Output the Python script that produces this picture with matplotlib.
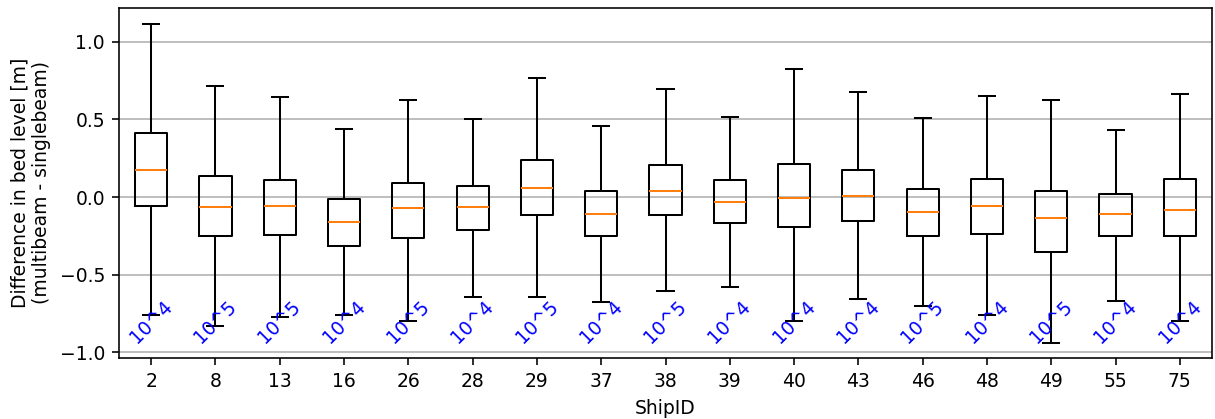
import matplotlib
matplotlib.use("Agg")
import matplotlib.pyplot as plt

ship_ids = ["2", "8", "13", "16", "26", "28", "29", "37", "38", "39", "40", "43", "46", "48", "49", "55", "75"]
whisker_high = [1.114, 0.714, 0.643, 0.439, 0.628, 0.503, 0.770, 0.460, 0.695, 0.518, 0.824, 0.675, 0.512, 0.649, 0.628, 0.434, 0.665]
q3 = [0.411, 0.138, 0.110, -0.013, 0.090, 0.073, 0.237, 0.037, 0.209, 0.108, 0.213, 0.174, 0.054, 0.118, 0.041, 0.022, 0.114]
median = [0.174, -0.062, -0.056, -0.161, -0.073, -0.067, 0.058, -0.110, 0.041, -0.032, -0.009, 0.004, -0.095, -0.056, -0.135, -0.110, -0.084]
q1 = [-0.058, -0.249, -0.243, -0.314, -0.265, -0.213, -0.114, -0.249, -0.118, -0.168, -0.194, -0.157, -0.252, -0.237, -0.351, -0.254, -0.252]
whisker_low = [-0.759, -0.828, -0.774, -0.763, -0.800, -0.641, -0.643, -0.673, -0.604, -0.578, -0.800, -0.658, -0.705, -0.763, -0.938, -0.667, -0.800]
count_labels = ["10^4", "10^5", "10^5", "10^4", "10^5", "10^4", "10^5", "10^4", "10^5", "10^4",
                "10^4", "10^4", "10^5", "10^4", "10^5", "10^4", "10^4"]

s = 1.45
plt.rcParams.update({
    "lines.linewidth": 1.0 * s,
    "axes.linewidth": 0.8 * s,
    "xtick.major.width": 0.8 * s,
    "ytick.major.width": 0.8 * s,
    "xtick.major.size": 3.5 * s,
    "ytick.major.size": 3.5 * s,
    "xtick.major.pad": 3.5 * s,
    "ytick.major.pad": 3.5 * s,
    "axes.labelpad": 4.0 * s,
    "font.size": 13.5,
    "boxplot.boxprops.linewidth": 1.0 * s,
    "boxplot.whiskerprops.linewidth": 1.0 * s,
    "boxplot.capprops.linewidth": 1.0 * s,
    "boxplot.medianprops.linewidth": 1.0 * s,
})

fig = plt.figure(figsize=(12.15, 4.19), dpi=100)
ax = fig.add_axes([119 / 1215, 61 / 419, (1212 - 119) / 1215, (358 - 8) / 419])

stats = []
for i, sid in enumerate(ship_ids):
    stats.append(dict(label=sid, whislo=whisker_low[i], q1=q1[i], med=median[i],
                      q3=q3[i], whishi=whisker_high[i], fliers=[]))

ax.bxp(stats, showfliers=False)
ax.yaxis.grid(True, color="#b0b0b0", linewidth=0.8 * s)
ax.set_axisbelow(True)

for i, lab in enumerate(count_labels):
    ax.text(i + 1, -0.805, lab, color="blue", rotation=45, ha="center", va="center", fontsize=13.5)

ax.set_ylim(-1.037, 1.218)
ax.set_xlim(0.5, len(ship_ids) + 0.5)
ax.set_xlabel("ShipID")
ax.set_ylabel("Difference in bed level [m]\n(multibeam - singlebeam)")

fig.savefig("out.png", dpi=100)
